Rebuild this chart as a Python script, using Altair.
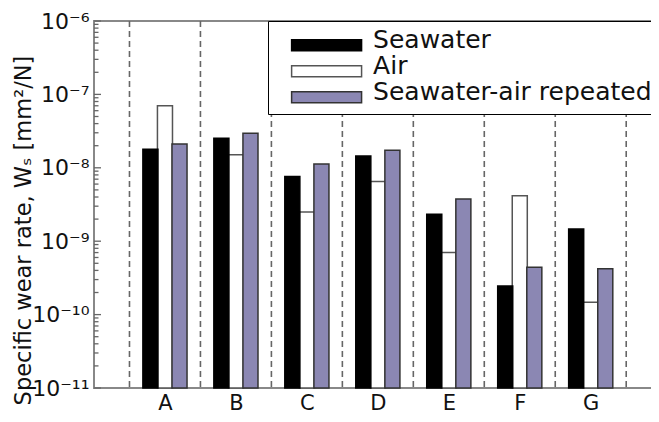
import json
import altair as alt
import pandas as pd

# ---- data ----
categories = ["A", "B", "C", "D", "E", "F", "G"]
series = ["Seawater", "Air", "Seawater-air repeated"]
seawater = [1.79e-8, 2.52e-8, 7.6e-9, 1.45e-8, 2.32e-9, 2.45e-10, 1.47e-9]
air = [7.0e-8, 1.51e-8, 2.5e-9, 6.5e-9, 7.0e-10, 4.17e-9, 1.47e-10]
repeated = [2.11e-8, 2.95e-8, 1.13e-8, 1.73e-8, 3.76e-9, 4.4e-10, 4.23e-10]
y_ticks = [1e-11, 1e-10, 1e-9, 1e-8, 1e-7, 1e-6]

values = {"Seawater": seawater, "Air": air, "Seawater-air repeated": repeated}
draw_order = ["Air", "Seawater", "Seawater-air repeated"]
rows = []
for s in draw_order:
    for i, c in enumerate(categories):
        rows.append({"category": c, "idx": i + 1, "series": s, "value": values[s][i]})
df = pd.DataFrame(rows)

bounds = pd.DataFrame({"b": [i + 0.5 for i in range(len(categories) + 1)]})
minor = [k * t for t in y_ticks[:-1] for k in range(2, 10)]
major_df = pd.DataFrame({"v": y_ticks})
minor_df = pd.DataFrame({"v": minor})

W, H = 575, 367
FONT = "DejaVu Sans"
fills = ["#000000", "#ffffff", "#8b87b3"]
strokes = ["#000000", "#555555", "#333333"]
offset = {"Seawater": -0.205, "Air": 0.0, "Seawater-air repeated": 0.205}
half = 0.106

x_scale = alt.Scale(domain=[0, 8.103], nice=False, zero=False)
y_scale = alt.Scale(type="log", domain=[1e-11, 1e-6], nice=False)

sup = {"-6": "⁻⁶", "-7": "⁻⁷", "-8": "⁻⁸", "-9": "⁻⁹", "-10": "⁻¹⁰", "-11": "⁻¹¹"}
sup_expr = "'10' + " + json.dumps(sup) + "['' + round(log(datum.value)/LN10)]"

off_expr = "datum.series == 'Seawater' ? %f : (datum.series == 'Air' ? %f : %f)" % (
    offset["Seawater"], offset["Air"], offset["Seawater-air repeated"])

legend = alt.Legend(
    title=None,
    orient="none",
    legendX=174,
    legendY=0,
    symbolType="M0.32,-0.07L6.68,-0.07L6.68,0.93L0.32,0.93Z",
    symbolSize=484,
    symbolStrokeColor="#222222",
    symbolStrokeWidth=1.5,
    labelFont=FONT,
    labelFontSize=25,
    labelColor="#111111",
    labelOffset=72.5,
    labelLimit=500,
    padding=7.6,
    rowPadding=0,
    clipHeight=23.75,
    strokeColor="#000000",
    fillColor="#ffffff",
)

bars = alt.Chart(df).transform_calculate(
    xc="datum.idx + (" + off_expr + ")"
).transform_calculate(
    x1="datum.xc - %f" % half, x2="datum.xc + %f" % half
).mark_bar(strokeWidth=1.5).encode(
    x=alt.X("x1:Q", scale=x_scale, axis=alt.Axis(
        values=list(range(1, len(categories) + 1)),
        labelExpr=json.dumps(categories) + "[datum.value - 1]",
        title=None, grid=False, ticks=False, domain=False,
        labelFont=FONT, labelFontSize=21, labelColor="#111111",
        labelBaseline="alphabetic", labelPadding=21, labelFlush=False)),
    x2="x2:Q",
    y=alt.Y("value:Q", scale=y_scale, axis=alt.Axis(
        values=y_ticks, labelExpr=sup_expr,
        title="Specific wear rate, Wₛ [mm²/N]",
        titleFont=FONT, titleFontSize=22.5, titleFontWeight="normal", titleColor="#111111",
        titleX=-71, titleY=209, titleAngle=-90, titleAlign="center", titleBaseline="middle",
        grid=False, ticks=False, domain=False,
        labelFont=FONT, labelFontSize=22, labelColor="#111111",
        labelPadding=5, labelBaseline="middle", labelFlush=False, labelOverlap=False)),
    y2=alt.datum(1e-11),
    fill=alt.Fill("series:N", scale=alt.Scale(domain=series, range=fills), legend=legend),
    stroke=alt.Stroke("series:N", scale=alt.Scale(domain=series, range=strokes), legend=None),
)

dashes = alt.Chart(bounds).mark_rule(color="#666666", strokeWidth=1.6, strokeDash=[6, 4]).encode(
    x=alt.X("b:Q", scale=x_scale)
)

def tick_layer(data, length, right):
    if right:
        xe = dict(x=alt.value(W), x2=alt.value(W - length))
    else:
        xe = dict(x=alt.value(0), x2=alt.value(length))
    return alt.Chart(data).mark_rule(color="#666666", strokeWidth=1.3).encode(
        y=alt.Y("v:Q", scale=y_scale), **xe)

chart = alt.layer(
    dashes,
    bars,
    tick_layer(major_df, 7, False),
    tick_layer(minor_df, 4.5, False),
    tick_layer(major_df, 7, True),
    tick_layer(minor_df, 4.5, True),
).properties(
    width=W, height=H,
    autosize=alt.AutoSizeParams(type="none"),
    padding={"left": 86, "top": 13, "right": -18, "bottom": 26},
).configure_view(
    stroke="#888888", strokeWidth=2
)

chart.save("out.html", embed_options={"renderer": "svg", "actions": False})
